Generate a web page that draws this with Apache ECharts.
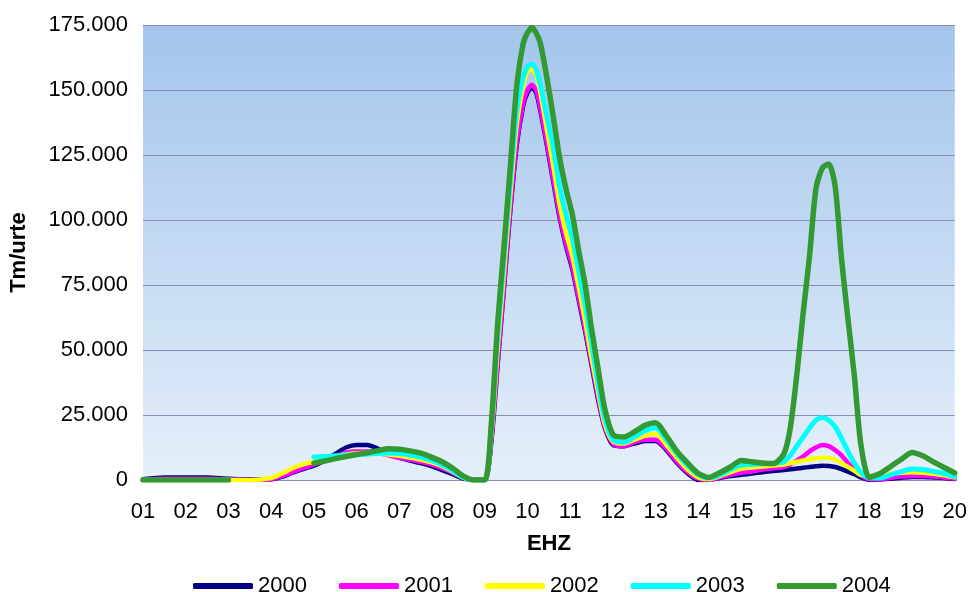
<!DOCTYPE html>
<html>
<head>
<meta charset="utf-8">
<script src="https://cdn.jsdelivr.net/npm/echarts@6/dist/echarts.min.js"></script>
<style>html,body{margin:0;padding:0;background:#fff}#c{width:970px;height:592px}</style>
</head>
<body>
<div id="c"></div>
<script>
// EHZ positions (x) and values in thousands of Tm/urte
const xs = [
  1, 1.5, 2, 2.5, 3, 3.5, 4,
  4.25, 4.5, 4.75, 5, 5.25, 5.5, 5.75, 6, 6.25, 6.5, 6.75, 7, 7.25, 7.5, 7.75, 8, 8.25, 8.5, 8.75, 9,
  9.15, 9.3, 9.45, 9.6, 9.75, 9.9, 10, 10.1, 10.2, 10.3, 10.45, 10.6, 10.75, 10.9, 11.05, 11.2, 11.35, 11.5, 11.65, 11.8, 12,
  12.25, 12.5, 12.75, 13, 13.25, 13.5, 13.75, 14, 14.25, 14.5, 14.75, 15, 15.25, 15.5, 15.75, 16,
  16.15, 16.3, 16.45, 16.6, 16.75, 16.9, 17.05, 17.2, 17.35, 17.5, 17.65, 17.8, 18,
  18.25, 18.5, 18.75, 19, 19.25, 19.5, 19.75, 20
];
const s2000 = [
  0.3, 1, 1, 1, 0.5, 0.3, 0.3,
  1.2, 2.8, 4.2, 5.5, 7.5, 10, 12.5, 13.5, 13.5, 12, 10, 8.5, 7.5, 6.5, 5.3, 3.8, 2.2, 0.5, 0, 0,
  14, 44, 74, 104, 129, 144, 149, 151, 149, 142, 129, 115, 101, 90, 81, 69, 57, 44, 31, 20.5, 13.5,
  13, 14, 15, 15, 11.5, 6.5, 2.5, 0, 0, 0.8, 1.5, 2, 2.5, 3, 3.5, 3.8,
  4.1, 4.4, 4.7, 5, 5.3, 5.5, 5.4, 5, 4.2, 3.2, 2.2, 1, 0,
  0.2, 0.5, 0.9, 1.2, 1.2, 1, 0.8, 0.4
];
const s2001 = [
  0, 0.5, 0.5, 0.5, 0.2, 0, 0.3,
  1.5, 3, 4.5, 6, 7.5, 9, 10.5, 11, 11, 10.5, 9.5, 8.5, 7.8, 7, 6, 4.6, 2.8, 0.8, 0, 0,
  15, 45, 75, 105, 130, 145, 150, 152, 150, 143, 130, 116, 102, 91, 82, 70, 58, 45, 32, 21, 14,
  13, 14.5, 15.5, 15.5, 12, 7, 3, 0.5, 0, 1, 2, 2.8, 3.3, 4, 4.5, 5,
  6, 7.5, 9, 11, 12.5, 13.5, 13, 11.5, 9.5, 6.5, 4, 1.8, 0.3,
  0.3, 0.8, 1.3, 1.5, 1.5, 1.3, 1, 0.5
];
const s2002 = [
  0, 0, 0, 0, 0, 0, 0.8,
  2.5, 4.5, 6, 7, 8, 9, 9.8, 10.3, 10.5, 10.2, 9.8, 9.3, 8.6, 7.8, 6.8, 5.3, 3.2, 0.9, 0, 0,
  17, 50, 80, 110, 137, 152, 157, 158, 156, 149, 135, 121, 106, 95, 86, 74, 61, 47, 34, 22, 14.8,
  14, 15.5, 17, 17.8, 13.5, 8.5, 4, 1, 0.3, 1.5, 3, 4.3, 4.8, 5.2, 5.6, 6,
  6.5, 7, 7.5, 8, 8.4, 8.6, 8.5, 7.8, 6.5, 5, 3.5, 2, 1.5,
  2, 2.5, 2.8, 3, 2.8, 2.4, 1.8, 1
];
const s2003 = [
  '-', '-', '-', '-', '-', '-', '-',
  '-', '-', '-', 8.8, 9, 9.3, 9.5, 9.7, 10, 10.2, 10.4, 10.2, 9.6, 8.8, 7.5, 5.8, 3.5, 1, 0, 0,
  19, 55, 85, 115, 142, 155, 159, 160, 158, 152, 140, 128, 113, 102, 93, 80, 67, 52, 37, 24, 15.5,
  14.5, 16.5, 19, 20, 15.5, 10, 5.5, 2, 0.8, 2, 4, 5.8, 6, 6.2, 6.3, 7,
  9.5, 13, 16.5, 20, 23, 24, 23, 20.5, 16, 11, 6.5, 3, 0.8,
  0.8, 2, 3.2, 4.2, 4, 3.3, 2.5, 1.3
];
const s2004 = [
  0, 0, 0, 0, 0, '-', '-',
  '-', '-', '-', 6.5, 7.3, 8.2, 9, 9.8, 10.5, 11.3, 12, 11.8, 11.2, 10.3, 8.8, 7, 4.5, 1.5, 0, 0,
  21, 60, 90, 121, 152, 168, 172, 174, 172, 168, 155, 140, 124, 112, 102, 88, 75, 58, 43, 28, 17.5,
  16.5, 18.5, 21, 22, 17, 11, 6.5, 2.5, 1, 2.8, 5, 7.5, 7, 6.5, 6.3, 10,
  20, 40, 64, 86, 112, 120, 121.5, 113, 85, 62, 40, 14, 1,
  2.5, 5.2, 8, 10.6, 9.3, 7, 4.8, 2.7
];
const years = ['2000', '2001', '2002', '2003', '2004'];
const seriesValues = [s2000, s2001, s2002, s2003, s2004];
const colors = ['#000080', '#ff00ff', '#ffff00', '#00ffff', '#339933'];
const widths = [4.5, 4.5, 4.5, 5, 5.5];

const chart = echarts.init(document.getElementById('c'), null, {renderer: 'canvas'});
const FONT = 'Liberation Sans, Arial, sans-serif';
chart.setOption({
  animation: false,
  backgroundColor: '#ffffff',
  textStyle: {fontFamily: FONT},
  grid: {
    left: 143, right: 13, top: 25, bottom: 112,
    show: true, borderWidth: 0,
    backgroundColor: new echarts.graphic.LinearGradient(0, 0, 0, 1, [
      {offset: 0, color: '#a3c5ec'},
      {offset: 1, color: '#e5eff9'}
    ])
  },
  legend: {
    left: 188, top: 570,
    icon: 'roundRect',
    itemWidth: 60, itemHeight: 6, itemGap: 32,
    textStyle: {fontFamily: FONT, fontSize: 22, color: '#000'},
    data: years
  },
  xAxis: {
    type: 'value', min: 1, max: 20, interval: 1,
    name: 'EHZ', nameLocation: 'middle', nameGap: 53,
    nameTextStyle: {fontFamily: FONT, fontSize: 22, fontWeight: 'bold', color: '#000'},
    axisLine: {show: true, lineStyle: {color: '#8b8bb5', width: 1}},
    axisTick: {show: false},
    splitLine: {show: false},
    axisLabel: {
      fontFamily: FONT, fontSize: 22, color: '#000', margin: 21,
      formatter: v => (v < 10 ? '0' : '') + v
    }
  },
  yAxis: {
    type: 'value', min: 0, max: 175, interval: 25,
    name: 'Tm/urte', nameLocation: 'middle', nameGap: 113, nameRotate: 90,
    nameTextStyle: {fontFamily: FONT, fontSize: 22, fontWeight: 'bold', color: '#000'},
    axisLine: {show: false},
    axisTick: {show: false},
    splitLine: {show: true, lineStyle: {color: '#8b8bb5', width: 1}},
    axisLabel: {
      fontFamily: FONT, fontSize: 22, color: '#000', margin: 15,
      formatter: v => v === 0 ? '0' : v + '.000'
    }
  },
  series: years.map((y, k) => ({
    name: y,
    type: 'line',
    smooth: 0.25,
    showSymbol: false,
    symbol: 'none',
    connectNulls: false,
    color: colors[k],
    lineStyle: {color: colors[k], width: widths[k], cap: 'round', join: 'round'},
    data: xs.map((x, i) => [x, seriesValues[k][i]])
  }))
});
</script>
</body>
</html>
